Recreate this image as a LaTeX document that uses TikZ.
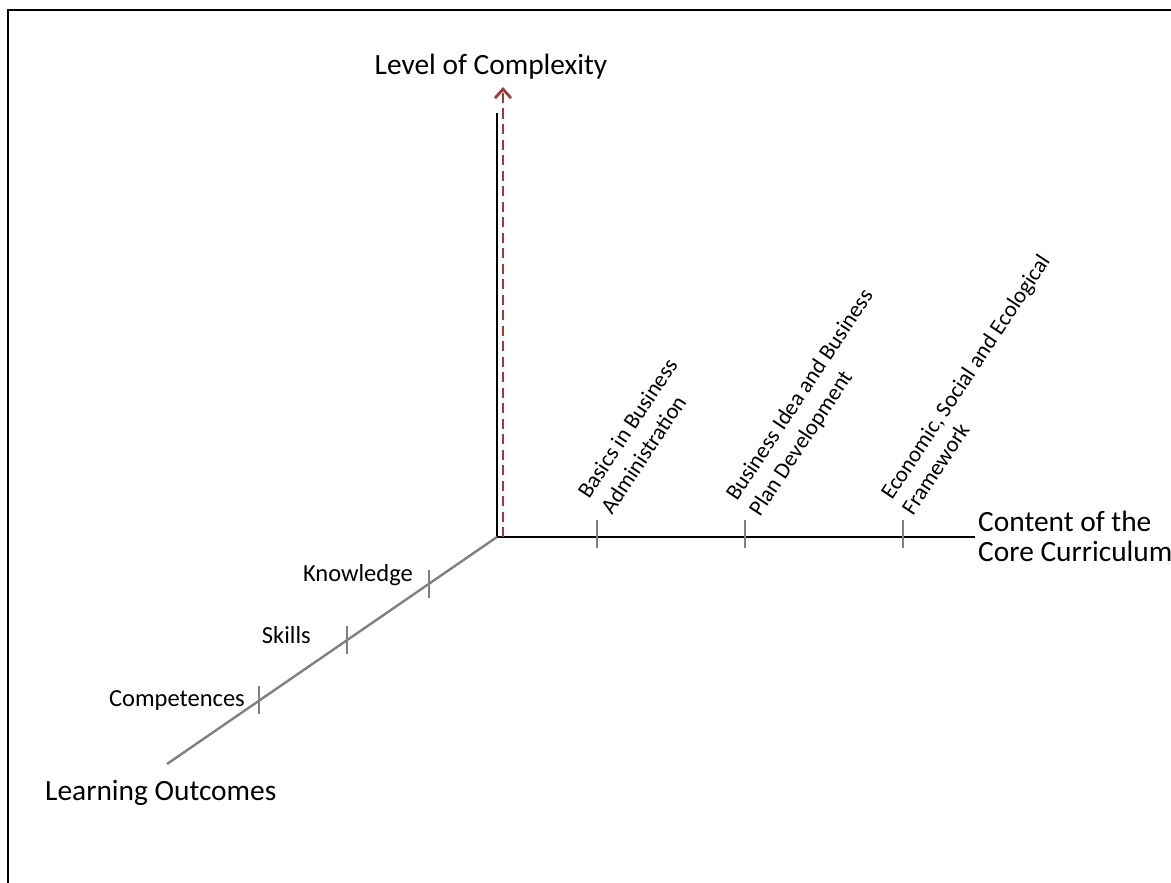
\documentclass[tikz,border=0pt]{standalone}
\usepackage{fontspec}
\setmainfont{Carlito}
\usetikzlibrary{arrows.meta,calc}
\definecolor{axisgray}{RGB}{128,128,128}
\definecolor{darkred}{RGB}{168,56,56}
\begin{document}
\begin{tikzpicture}[x=1pt,y=-1pt,
  big/.style={font=\fontsize{29.4}{31}\selectfont, inner sep=0pt},
  small/.style={font=\fontsize{24.5}{28}\selectfont, inner sep=0pt},
  rotlabel/.style={font=\fontsize{22.6}{27}\selectfont, inner sep=0pt, rotate=56.5, anchor=base west},
  tickline/.style={axisgray, line width=2.4pt},
  blackaxis/.style={black, line width=1.5pt},
  ]
\useasboundingbox (0,0) rectangle (1171,883);
\begin{scope}
  \clip (0,0) rectangle (1171,883);
  \draw[line width=2.5pt] (8,10) rectangle (1220,930);
\end{scope}

% axes
\coordinate (O) at (497,537);
\coordinate (Vtop) at (497,113);
\coordinate (Hend) at (975,537);
\coordinate (Dend) at (167,764);
\coordinate (Rbot) at (503,537);
\coordinate (Rtop) at (503,87);

\draw[blackaxis] (O) -- (Vtop);
\draw[blackaxis] (O) -- (Hend);
\draw[tickline] (O) -- (Dend);
\draw[darkred, line width=2.8pt, dash pattern=on 10pt off 5.5pt,
  -{Straight Barb[length=9pt,width=16pt]}] (Rbot) -- (Rtop);

% ticks on horizontal axis
\coordinate (tA) at (597,537);
\coordinate (tB) at (745,537);
\coordinate (tC) at (903,537);
\foreach \t in {tA,tB,tC}
  \draw[tickline] ($(\t)+(0,-17)$) -- ($(\t)+(0,11)$);

% ticks on diagonal axis
\coordinate (tK) at (429,584);
\coordinate (tS) at (347,640);
\coordinate (tCo) at (259,700);
\foreach \t in {tK,tS,tCo}
  \draw[tickline] ($(\t)+(0,-14)$) -- ($(\t)+(0,14)$);

% labels
\node[big, anchor=base] (lvl) at (491,75) {Level of Complexity};
\node[big, anchor=base west] (cont1) at (978,531) {Content of the};
\node[big, anchor=base west] (cont2) at (978,561) {Core Curriculum};
\node[big, anchor=base west] (lo) at (45,800) {Learning Outcomes};
\node[small, anchor=base east] (know) at (413,581) {Knowledge};
\node[small, anchor=base east] (skills) at (311,643) {Skills};
\node[small, anchor=base east] (comp) at (245,706) {Competences};

\node[rotlabel] (ba1) at (589,500) {Basics in Business};
\node[rotlabel] (ba2) at (612,515.5) {Administration};
\node[rotlabel] (bi1) at (737,502) {Business Idea and Business};
\node[rotlabel] (bi2) at (760,517.5) {Plan Development};
\node[rotlabel] (ec1) at (892,501) {Economic, Social and Ecological};
\node[rotlabel] (ec2) at (913,516.5) {Framework};
\end{tikzpicture}
\end{document}
